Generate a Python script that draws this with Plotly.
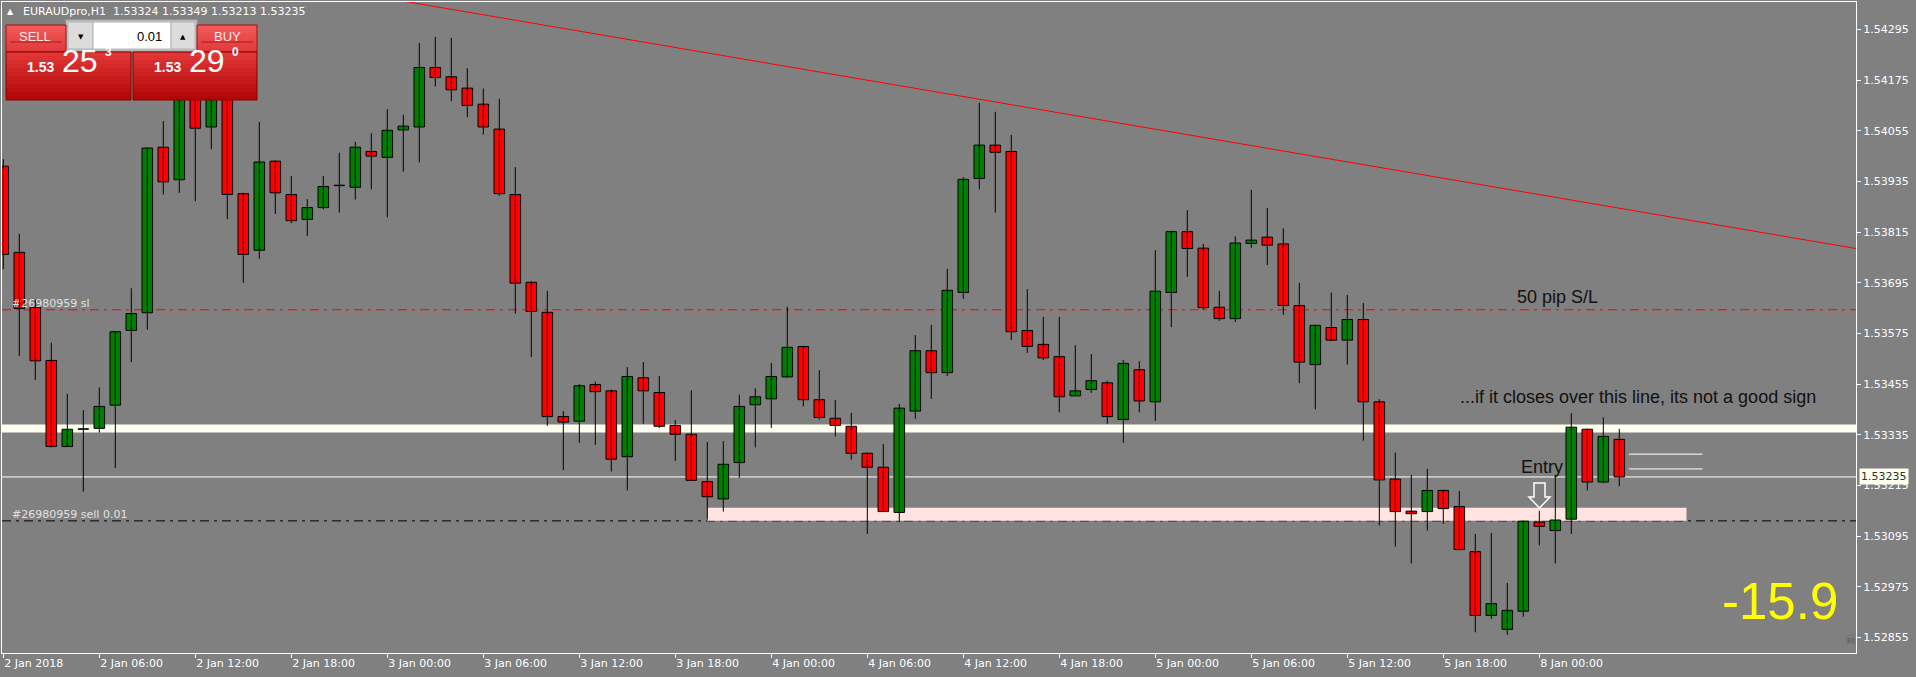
import plotly.graph_objects as go

# ---------------- data (EURAUDpro, H1) ----------------
bar_idx = list(range(102))
open_ = [1.53971, 1.53767, 1.53637, 1.53511, 1.53307, 1.53348, 1.53350, 1.53405, 1.53582, 1.53624,
         1.54016, 1.53939, 1.54170, 1.54064, 1.54130, 1.53906, 1.53772, 1.53983, 1.53904, 1.53845,
         1.53873, 1.53925, 1.53921, 1.54006, 1.53992, 1.54057, 1.54064, 1.54205, 1.54183, 1.54156,
         1.54118, 1.54059, 1.53904, 1.53696, 1.53625, 1.53378, 1.53367, 1.53454, 1.53439, 1.53283,
         1.53470, 1.53435, 1.53357, 1.53336, 1.53224, 1.53183, 1.53269, 1.53406, 1.53420, 1.53472,
         1.53544, 1.53418, 1.53374, 1.53355, 1.53291, 1.53258, 1.53151, 1.53391, 1.53534, 1.53482,
         1.53672, 1.53942, 1.54021, 1.54006, 1.53582, 1.53549, 1.53520, 1.53427, 1.53442, 1.53458,
         1.53371, 1.53489, 1.53413, 1.53672, 1.53816, 1.53777, 1.53637, 1.53610, 1.53788, 1.53803,
         1.53787, 1.53641, 1.53501, 1.53589, 1.53559, 1.53608, 1.53413, 1.53230, 1.53154, 1.53153,
         1.53203, 1.53165, 1.53058, 1.52907, 1.52874, 1.52917, 1.53128, 1.53108, 1.53135, 1.53348,
         1.53223, 1.53324]
high = [1.53988, 1.53811, 1.53655, 1.53553, 1.53432, 1.53393, 1.53447, 1.53580, 1.53682, 1.54016,
        1.54078, 1.54210, 1.54215, 1.54180, 1.54160, 1.53908, 1.54076, 1.53985, 1.53948, 1.53893,
        1.53948, 1.54003, 1.54029, 1.54049, 1.54106, 1.54093, 1.54263, 1.54277, 1.54275, 1.54203,
        1.54155, 1.54131, 1.53969, 1.53699, 1.53676, 1.53391, 1.53455, 1.53461, 1.53442, 1.53495,
        1.53507, 1.53474, 1.53370, 1.53440, 1.53318, 1.53320, 1.53430, 1.53445, 1.53505, 1.53638,
        1.53546, 1.53488, 1.53417, 1.53387, 1.53293, 1.53313, 1.53408, 1.53571, 1.53595, 1.53728,
        1.53945, 1.54121, 1.54100, 1.54045, 1.53680, 1.53614, 1.53614, 1.53547, 1.53526, 1.53463,
        1.53512, 1.53509, 1.53772, 1.53818, 1.53867, 1.53787, 1.53676, 1.53805, 1.53915, 1.53872,
        1.53824, 1.53695, 1.53596, 1.53672, 1.53666, 1.53647, 1.53419, 1.53293, 1.53240, 1.53254,
        1.53205, 1.53202, 1.53100, 1.53102, 1.52984, 1.53132, 1.53155, 1.53240, 1.53386, 1.53350,
        1.53376, 1.53349]
low = [1.53727, 1.53522, 1.53465, 1.53305, 1.53307, 1.53200, 1.53340, 1.53256, 1.53507, 1.53584,
       1.53904, 1.53908, 1.53888, 1.54011, 1.53846, 1.53695, 1.53752, 1.53858, 1.53836, 1.53806,
       1.53869, 1.53861, 1.53892, 1.53916, 1.53850, 1.53958, 1.53980, 1.54160, 1.54125, 1.54087,
       1.54046, 1.53901, 1.53622, 1.53519, 1.53356, 1.53251, 1.53316, 1.53311, 1.53248, 1.53203,
       1.53361, 1.53351, 1.53273, 1.53227, 1.53134, 1.53153, 1.53233, 1.53305, 1.53351, 1.53470,
       1.53402, 1.53371, 1.53331, 1.53276, 1.53100, 1.53153, 1.53128, 1.53373, 1.53420, 1.53474,
       1.53657, 1.53916, 1.53861, 1.53559, 1.53529, 1.53512, 1.53388, 1.53427, 1.53434, 1.53361,
       1.53316, 1.53388, 1.53368, 1.53590, 1.53709, 1.53631, 1.53605, 1.53602, 1.53778, 1.53737,
       1.53619, 1.53457, 1.53395, 1.53557, 1.53501, 1.53321, 1.53120, 1.53070, 1.53030, 1.53108,
       1.53124, 1.53061, 1.52867, 1.52899, 1.52861, 1.52904, 1.53073, 1.53030, 1.53100, 1.53203,
       1.53220, 1.53213]
close = [1.53762, 1.53634, 1.53510, 1.53307, 1.53348, 1.53349, 1.53402, 1.53579, 1.53622, 1.54014,
         1.53934, 1.54160, 1.54061, 1.54140, 1.53904, 1.53762, 1.53981, 1.53908, 1.53842, 1.53873,
         1.53923, 1.53926, 1.54016, 1.53995, 1.54056, 1.54066, 1.54205, 1.54181, 1.54152, 1.54115,
         1.54064, 1.53906, 1.53694, 1.53627, 1.53378, 1.53365, 1.53451, 1.53437, 1.53277, 1.53473,
         1.53439, 1.53355, 1.53336, 1.53227, 1.53188, 1.53265, 1.53402, 1.53425, 1.53473, 1.53542,
         1.53418, 1.53376, 1.53357, 1.53291, 1.53258, 1.53153, 1.53398, 1.53534, 1.53482, 1.53677,
         1.53940, 1.54021, 1.54004, 1.53579, 1.53544, 1.53517, 1.53425, 1.53439, 1.53463, 1.53378,
         1.53504, 1.53415, 1.53675, 1.53816, 1.53776, 1.53636, 1.53610, 1.53789, 1.53796, 1.53784,
         1.53641, 1.53507, 1.53594, 1.53559, 1.53608, 1.53413, 1.53228, 1.53153, 1.53148, 1.53203,
         1.53160, 1.53063, 1.52907, 1.52935, 1.52919, 1.53130, 1.53118, 1.53133, 1.53353, 1.53223,
         1.53331, 1.53235]

tick_bars = [0, 6, 12, 18, 24, 30, 36, 42, 48, 54, 60, 66, 72, 78, 84, 90, 96]
tick_labels = ["2 Jan 2018", "2 Jan 06:00", "2 Jan 12:00", "2 Jan 18:00", "3 Jan 00:00",
               "3 Jan 06:00", "3 Jan 12:00", "3 Jan 18:00", "4 Jan 00:00", "4 Jan 06:00",
               "4 Jan 12:00", "4 Jan 18:00", "5 Jan 00:00", "5 Jan 06:00", "5 Jan 12:00",
               "5 Jan 18:00", "8 Jan 00:00"]
y_ticks = [1.52855, 1.52975, 1.53095, 1.53215, 1.53335, 1.53455, 1.53575,
           1.53695, 1.53815, 1.53935, 1.54055, 1.54175, 1.54295]
y_tick_text = ["%.5f" % v for v in y_ticks]

entry_price = 1.53131
sl_price = 1.53631
bid_price = 1.53235
band_low, band_high = 1.53340, 1.53359
zone_low, zone_high = 1.53131, 1.53162
zone_x0, zone_x1 = 44.0, 105.2
short_levels = [1.53289, 1.53254]
short_x0, short_x1 = 101.6, 106.2
trend_x = [25.0, 115.8]
trend_y = [1.54362, 1.53776]
title_text = "EURAUDpro,H1  1.53324 1.53349 1.53213 1.53235"
pnl_text = "-15.9"

# ---------------- geometry helpers ----------------
W, H = 1916, 677
L, R, T, B = 2, 1856, 2, 653
PW, PH = R - L, B - T
BAR_PX = 16.0
X0_PX = 3.3
x_lo = (L - X0_PX) / BAR_PX
x_hi = x_lo + PW / BAR_PX
y_lo, y_hi = 1.52818, 1.54360


def px(x):
    return (x - L) / PW


def py(y):
    return 1 - (y - T) / PH


shapes = []
annotations = []

# background objects (below candles)
shapes.append(dict(type="rect", xref="paper", yref="y", x0=0, x1=1, y0=band_low, y1=band_high,
                   fillcolor="#fffff0", line=dict(width=0), layer="below"))
shapes.append(dict(type="rect", xref="x", yref="y", x0=zone_x0, x1=zone_x1, y0=zone_low, y1=zone_high,
                   fillcolor="#ffe4e1", line=dict(width=0), layer="below"))
shapes.append(dict(type="line", xref="paper", yref="y", x0=0, x1=1, y0=bid_price, y1=bid_price,
                   line=dict(color="#ffffff", width=1), layer="below"))
shapes.append(dict(type="line", xref="paper", yref="y", x0=0, x1=1, y0=sl_price, y1=sl_price,
                   line=dict(color="#ff0000", width=1, dash="9px,5px,3px,5px"), layer="below"))
shapes.append(dict(type="line", xref="paper", yref="y", x0=0, x1=1, y0=entry_price, y1=entry_price,
                   line=dict(color="#000000", width=1, dash="9px,5px,3px,5px"), layer="below"))
for lv in short_levels:
    shapes.append(dict(type="line", xref="x", yref="y", x0=short_x0, x1=short_x1, y0=lv, y1=lv,
                       line=dict(color="#ffffff", width=1), layer="below"))

# ---------------- traces ----------------
fig = go.Figure()

fig.add_trace(go.Scatter(x=[0.55, 0.55], y=[sl_price, entry_price], mode="text",
                         text=["#26980959 sl", "#26980959 sell 0.01"], textposition="top right",
                         textfont=dict(color="#e0e0e0", size=11, family="DejaVu Sans"),
                         hoverinfo="skip", showlegend=False))

fig.add_trace(go.Scatter(x=trend_x, y=trend_y, mode="lines", line=dict(color="#ff0000", width=1),
                         hoverinfo="skip", showlegend=False))

wx, wy = [], []
for i in bar_idx:
    wx += [i, i, None]
    wy += [low[i], high[i], None]
fig.add_trace(go.Scatter(x=wx, y=wy, mode="lines", line=dict(color="#000000", width=1),
                         hoverinfo="skip", showlegend=False))

bull = [i for i in bar_idx if close[i] >= open_[i]]
bear = [i for i in bar_idx if close[i] < open_[i]]
fig.add_trace(go.Bar(x=bull, base=[open_[i] for i in bull], y=[close[i] - open_[i] for i in bull],
                     width=0.66, marker=dict(color="#008000", line=dict(color="#000000", width=1)),
                     hoverinfo="skip", showlegend=False))
fig.add_trace(go.Bar(x=bear, base=[close[i] for i in bear], y=[open_[i] - close[i] for i in bear],
                     width=0.66, marker=dict(color="#ff0000", line=dict(color="#000000", width=1)),
                     hoverinfo="skip", showlegend=False))


# ---------------- overlay decorations ----------------
def hexrgb(c):
    c = c.lstrip("#")
    return [int(c[k:k + 2], 16) for k in (0, 2, 4)]


def grad_rect(x0, y0, x1, y1, c0, c1, n=12, border=None):
    a, b = hexrgb(c0), hexrgb(c1)
    for k in range(n):
        t = k / (n - 1)
        col = "rgb(%d,%d,%d)" % tuple(round(a[j] + (b[j] - a[j]) * t) for j in range(3))
        ya = y0 + (y1 - y0) * k / n
        yb = y0 + (y1 - y0) * (k + 1) / n + 0.5
        shapes.append(dict(type="rect", xref="paper", yref="paper", x0=px(x0), x1=px(x1),
                           y0=py(min(yb, y1)), y1=py(ya), fillcolor=col, line=dict(width=0), layer="above"))
    if border:
        shapes.append(dict(type="rect", xref="paper", yref="paper", x0=px(x0), x1=px(x1),
                           y0=py(y1), y1=py(y0), fillcolor="rgba(0,0,0,0)",
                           line=dict(color=border, width=1), layer="above"))


def rect(x0, y0, x1, y1, fill, line=None):
    shapes.append(dict(type="rect", xref="paper", yref="paper", x0=px(x0), x1=px(x1),
                       y0=py(y1), y1=py(y0), fillcolor=fill,
                       line=dict(color=line or fill, width=1 if line else 0), layer="above"))


def ann(text, x, y, size, color, family="Liberation Sans", xanchor="center", yanchor="middle", **kw):
    d = dict(text=text, xref="paper", yref="paper", x=px(x), y=py(y), showarrow=False,
             xanchor=xanchor, yanchor=yanchor, font=dict(size=size, color=color, family=family))
    d.update(kw)
    annotations.append(d)


# one-click trading panel
rect(66, 20, 197, 51, "#c4c4c4", "#a8a8a8")
rect(68, 22, 93, 49, "#dcdcdc", "#b4b4b4")
rect(93, 22, 171, 49, "#ffffff", "#b4b4b4")
rect(171, 22, 195, 49, "#dcdcdc", "#b4b4b4")
grad_rect(6, 25, 66, 52, "#f25a5a", "#e23a3a", border="#a01010")
grad_rect(197, 25, 257, 52, "#f25a5a", "#e23a3a", border="#a01010")
grad_rect(6, 52, 131, 100, "#e23636", "#b20808", border="#8a0000")
grad_rect(133, 52, 257, 100, "#e23636", "#b20808", border="#8a0000")
shapes.append(dict(type="line", xref="paper", yref="paper", x0=px(10), x1=px(62), y0=py(42), y1=py(42),
                   line=dict(color="#b01818", width=1), layer="above"))
shapes.append(dict(type="line", xref="paper", yref="paper", x0=px(201), x1=px(253), y0=py(42), y1=py(42),
                   line=dict(color="#b01818", width=1), layer="above"))

ann("SELL", 35, 37, 13, "#ffe6e6")
ann("BUY", 227, 37, 13, "#ffe6e6")
ann("0.01", 164, 37, 13, "#000000", xanchor="right")
ann("▼", 80.5, 37, 7, "#000000", family="DejaVu Sans")
ann("▲", 183, 37, 7, "#000000", family="DejaVu Sans")
ann("<b>1.53</b>", 40.5, 67, 14, "#ffffff")
ann("25", 80, 61, 32, "#ffffff")
ann("<b>3</b>", 108.5, 52, 12, "#ffffff")
ann("<b>1.53</b>", 167, 67, 14, "#ffffff")
ann("29", 206.5, 61, 32, "#ffffff")
ann("<b>0</b>", 235.5, 52, 12, "#ffffff")

# title
ann("▲", 10.5, 12, 8, "#ffffff", family="DejaVu Sans")
ann(title_text, 21, 12, 11, "#ffffff", family="DejaVu Sans", xanchor="left")

# chart texts
ann("50 pip S/L", 1557, 297, 18, "#111111")
ann("...if it closes over this line, its not a good sign", 1638, 397, 18, "#111111")
ann("Entry", 1541.5, 467, 18, "#111111")
ann(pnl_text, 1780, 601, 51, "#ffff00")
ann("☠", 1851, 639, 13, "#5e5e5e", family="DejaVu Sans")

# entry arrow
pts = [(1534, 483), (1545, 483), (1545, 497), (1550, 497), (1539.5, 508), (1529, 497), (1534, 497)]
path = "M " + " L ".join("%f,%f" % (px(a), py(b)) for a, b in pts) + " Z"
shapes.append(dict(type="path", xref="paper", yref="paper", path=path, fillcolor="rgba(0,0,0,0)",
                   line=dict(color="#ffffff", width=1.5), layer="above"))

# current price box on axis
annotations.append(dict(text="1.53235", xref="paper", yref="y", x=px(1859), y=bid_price,
                        showarrow=False, xanchor="left", yanchor="middle", bgcolor="#fffff0",
                        borderpad=1, font=dict(size=11, color="#303030", family="DejaVu Sans")))

fig.update_layout(
    width=W, height=H,
    margin=dict(l=L, r=W - R, t=T, b=H - B, pad=0),
    paper_bgcolor="#808080", plot_bgcolor="#808080",
    barmode="overlay", showlegend=False,
    shapes=shapes, annotations=annotations,
    xaxis=dict(range=[x_lo, x_hi], showgrid=False, zeroline=False, showline=True, mirror=True,
               linecolor="#ffffff", linewidth=1, ticks="outside", ticklen=4, tickcolor="#ffffff",
               tickvals=tick_bars, ticktext=tick_labels, ticklabelposition="outside right",
               tickfont=dict(family="DejaVu Sans", size=11, color="#ffffff")),
    yaxis=dict(range=[y_lo, y_hi], side="right", showgrid=False, zeroline=False, showline=True,
               mirror=True, linecolor="#ffffff", linewidth=1, ticks="outside", ticklen=4,
               tickcolor="#ffffff", tickvals=y_ticks, ticktext=y_tick_text,
               tickfont=dict(family="DejaVu Sans", size=11, color="#ffffff")),
)

fig.write_html("out.html", config={"displayModeBar": False},
               post_script="document.body.style.margin='0';document.body.style.padding='0';"
                           "document.body.style.background='#808080';")
